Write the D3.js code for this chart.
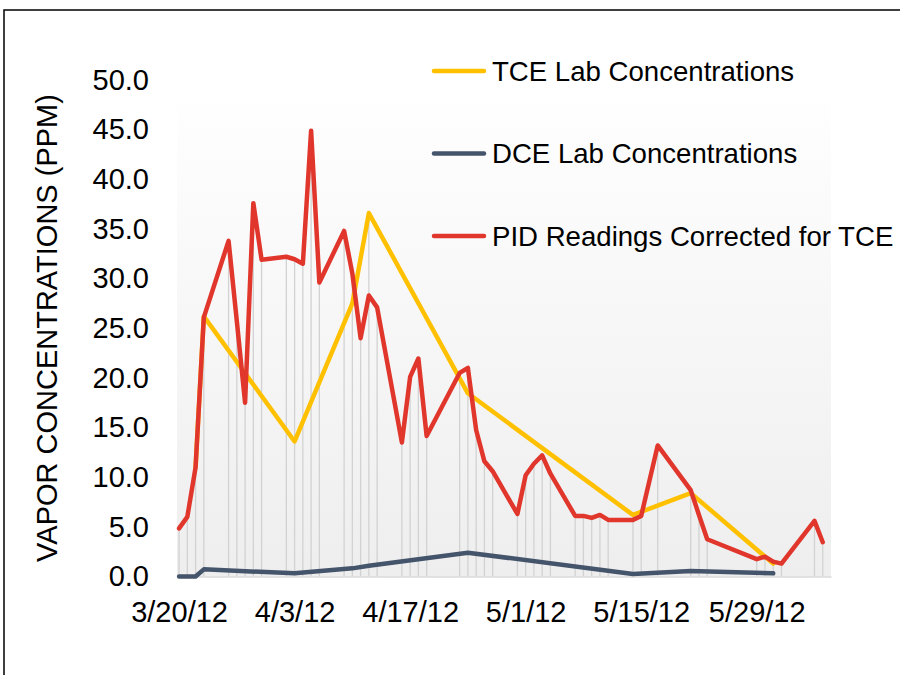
<!DOCTYPE html>
<html>
<head>
<meta charset="utf-8">
<script src="https://cdn.jsdelivr.net/npm/d3@7"></script>
<style>
  body { margin: 0; background: #fff; }
  text { font-family: "Liberation Sans", Arial, sans-serif; fill: #000; }
</style>
</head>
<body>
<svg id="chart"></svg>
<script>
// Canvas size
const width = 900;
const height = 675;

const TCE_COLOR = "#FFC000";
const DCE_COLOR = "#44546A";
const PID_COLOR = "#E0362C";
const DROP_COLOR = "#d2d2d2";

// PID readings (ppm), one per field day
const pidDates = ["3/20/12", "3/21/12", "3/22/12", "3/23/12", "3/26/12", "3/27/12", "3/28/12", "3/29/12", "3/30/12",
  "4/2/12", "4/3/12", "4/4/12", "4/5/12", "4/6/12", "4/9/12", "4/10/12", "4/11/12", "4/12/12", "4/13/12",
  "4/16/12", "4/17/12", "4/18/12", "4/19/12", "4/23/12", "4/24/12", "4/25/12", "4/26/12", "4/27/12",
  "4/30/12", "5/1/12", "5/2/12", "5/3/12", "5/4/12", "5/7/12", "5/8/12", "5/9/12", "5/10/12", "5/11/12",
  "5/14/12", "5/15/12", "5/17/12", "5/21/12", "5/22/12", "5/23/12", "5/29/12", "5/30/12", "5/31/12", "6/1/12",
  "6/5/12", "6/6/12"];
const pidValues = [4.85, 6.0, 11.0, 26.1, 33.8, 25.7, 17.5, 37.6, 31.9,
  32.2, 31.95, 31.5, 44.9, 29.6, 34.8, 30.5, 24.0, 28.3, 27.1,
  13.5, 20.1, 21.95, 14.15, 20.5, 21.0, 14.75, 11.6, 10.6,
  6.3, 10.2, 11.35, 12.2, 10.35, 6.1, 6.1, 5.9, 6.2, 5.7,
  5.7, 6.1, 13.2, 8.7, 6.2, 3.75, 1.75, 2.0, 1.5, 1.3,
  5.6, 3.45];

// TCE lab samples (ppm)
const tceDates = ["3/22/12", "3/23/12", "4/3/12", "4/10/12", "4/12/12", "4/24/12", "5/14/12", "5/21/12", "5/31/12"];
const tceValues = [11.0, 26.2, 13.6, 27.5, 36.6, 18.45, 6.2, 8.4, 1.3];

// DCE lab samples (ppm)
const dceDates = ["3/20/12", "3/21/12", "3/22/12", "3/23/12", "4/3/12", "4/10/12", "4/12/12", "4/24/12", "5/14/12", "5/21/12", "5/31/12"];
const dceValues = [0, 0, 0, 0.72, 0.32, 0.82, 1.08, 2.4, 0.25, 0.55, 0.32];

// Axis ticks
const yTicks = [0, 5, 10, 15, 20, 25, 30, 35, 40, 45, 50];
const xTickLabels = ["3/20/12", "4/3/12", "4/17/12", "5/1/12", "5/15/12", "5/29/12"];

const legendItems = ["TCE Lab Concentrations", "DCE Lab Concentrations", "PID Readings Corrected for TCE"];
const legendColors = [TCE_COLOR, DCE_COLOR, PID_COLOR];

const parseDate = d3.timeParse("%m/%d/%y");
const zip = (dates, values) => dates.map((d, i) => ({ date: parseDate(d), value: values[i] }));

const pid = zip(pidDates, pidValues);
const tce = zip(tceDates, tceValues);
const dce = zip(dceDates, dceValues);

const svg = d3.select("#chart")
  .attr("width", width)
  .attr("height", height);

// Outer border (only top and left edges show inside the frame)
svg.append("rect")
  .attr("x", 4).attr("y", 10)
  .attr("width", width + 20).attr("height", height + 20)
  .attr("fill", "none")
  .attr("stroke", "#000")
  .attr("stroke-width", 1.5);

// Scales
const x = d3.scaleTime()
  .domain([new Date(2012, 2, 19, 18), new Date(2012, 5, 7)])
  .range([177, 831]);
const y = d3.scaleLinear()
  .domain([0, 50])
  .range([576.5, 80]);

// Plot area gradient background
const grad = svg.append("defs").append("linearGradient")
  .attr("id", "bg").attr("x1", 0).attr("y1", 0).attr("x2", 0).attr("y2", 1);
grad.append("stop").attr("offset", "0%").attr("stop-color", "#ffffff");
grad.append("stop").attr("offset", "100%").attr("stop-color", "#eeeeee");

svg.append("rect")
  .attr("x", x.range()[0]).attr("y", y(50))
  .attr("width", x.range()[1] - x.range()[0])
  .attr("height", y(0) - y(50))
  .attr("fill", "url(#bg)");

// Drop lines: from the highest value on each date down to the axis
const maxByDate = d3.rollup([...pid, ...tce, ...dce], v => d3.max(v, d => d.value), d => +d.date);
svg.append("g")
  .selectAll("line")
  .data(Array.from(maxByDate))
  .join("line")
  .attr("x1", d => x(d[0])).attr("x2", d => x(d[0]))
  .attr("y1", d => y(d[1])).attr("y2", y(0))
  .attr("stroke", DROP_COLOR)
  .attr("stroke-width", 1.3);

// X axis
const xAxis = svg.append("g")
  .attr("transform", `translate(0,${y(0)})`)
  .call(d3.axisBottom(x)
    .tickValues(xTickLabels.map(parseDate))
    .tickFormat(d3.timeFormat("%-m/%-d/%y"))
    .tickSize(0)
    .tickSizeOuter(0)
    .tickPadding(25));
xAxis.select(".domain").attr("stroke", "#d9d9d9").attr("stroke-width", 1.5);
xAxis.selectAll("text").style("font-size", "29px").attr("font-family", null);

// Y axis
const yAxis = svg.append("g")
  .attr("transform", "translate(149,0)")
  .call(d3.axisLeft(y).tickValues(yTicks).tickFormat(d3.format(".1f")).tickSize(0).tickPadding(0));
yAxis.select(".domain").remove();
yAxis.selectAll("text").style("font-size", "29px").attr("font-family", null);

// Y axis title
svg.append("text")
  .attr("transform", "translate(47,328) rotate(-90)")
  .attr("text-anchor", "middle")
  .attr("dominant-baseline", "central")
  .style("font-size", "29px")
  .text("VAPOR CONCENTRATIONS (PPM)");

// Series lines
const line = d3.line()
  .x(d => x(d.date))
  .y(d => y(d.value));

[[tce, TCE_COLOR], [dce, DCE_COLOR], [pid, PID_COLOR]].forEach(([data, color]) => {
  svg.append("path")
    .datum(data)
    .attr("d", line)
    .attr("fill", "none")
    .attr("stroke", color)
    .attr("stroke-width", 4.5)
    .attr("stroke-linejoin", "round")
    .attr("stroke-linecap", "round");
});

// Legend
const legend = svg.append("g");
legendItems.forEach((name, i) => {
  const ly = 71 + i * 82.5;
  legend.append("line")
    .attr("x1", 434).attr("x2", 484)
    .attr("y1", ly).attr("y2", ly)
    .attr("stroke", legendColors[i])
    .attr("stroke-width", 4.5)
    .attr("stroke-linecap", "round");
  legend.append("text")
    .attr("x", 492).attr("y", ly)
    .attr("dominant-baseline", "central")
    .style("font-size", "27.6px")
    .text(name);
});
</script>
</body>
</html>
